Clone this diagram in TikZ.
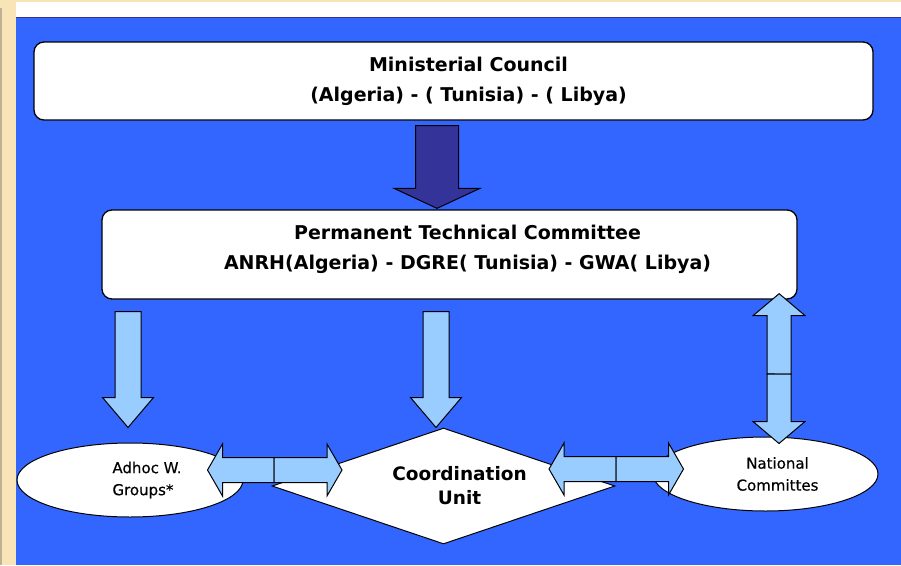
\documentclass[tikz,border=0pt]{standalone}
\usepackage{fontspec}
\setmainfont{DejaVu Sans}
\newfontfamily\ovalfont{DejaVu Sans}[FakeBold=0.4]
\usepackage{tikz}
\usetikzlibrary{calc}
\usetikzlibrary{shapes.geometric}
\usetikzlibrary{positioning}
\definecolor{slideblue}{RGB}{51,102,255}
\definecolor{arrowblue}{RGB}{153,204,255}
\definecolor{darkarrow}{RGB}{51,51,153}
\definecolor{frametan}{RGB}{249,228,184}
\definecolor{edgegray}{RGB}{190,178,150}
\tikzstyle{box}=[rectangle, rounded corners=10pt, draw=black, line width=1.3pt, fill=white]
\tikzstyle{boxtext}=[align=center, font=\bfseries\fontsize{19}{30}\selectfont]
\tikzstyle{oval}=[ellipse, draw=black, line width=1pt, fill=white, inner sep=0pt]
\tikzstyle{ovaltext}=[font=\ovalfont\fontsize{15}{22}\selectfont]
\tikzstyle{lightarr}=[draw=black, line width=1pt, fill=arrowblue]
\tikzstyle{darkarr}=[draw=black, line width=1pt, fill=darkarrow]
% block arrow: from, tip, shaft half width, head half width, head length
\newcommand{\blockarrow}[6][lightarr]{%
  \draw[#1] ($(#2)!#4!90:(#3)$)
    -- ($(#3)!#6!(#2)!#4!90:(#3)$)
    -- ($(#3)!#6!(#2)!#5!90:(#3)$)
    -- (#3)
    -- ($(#3)!#6!(#2)!#5!-90:(#3)$)
    -- ($(#3)!#6!(#2)!#4!-90:(#3)$)
    -- ($(#2)!#4!-90:(#3)$) -- cycle;}

\begin{document}
\begin{tikzpicture}[x=1pt, y=-1pt]
        \useasboundingbox (0,0) rectangle (901,565);

        % Frame
        \fill[frametan] (0,0) rectangle (901,565);
        \fill[edgegray] (0,8) rectangle (2,565);
        \fill[white] (16,2) rectangle (901,17);
        \fill[slideblue] (16,17) rectangle (901,565);
        \draw[darkarrow, line width=1pt] (16,17.5) -- (901,17.5);

        % Boxes
        \node at (453.5,81) [box, minimum width=839pt, minimum height=78pt,
          label={[boxtext, xshift=15pt]center:Ministerial Council\\(Algeria) - ( Tunisia) - ( Libya)}] (council) {};
        \node at (449.5,254.5) [box, minimum width=695pt, minimum height=89pt,
          label={[boxtext, xshift=18pt, yshift=5pt]center:Permanent Technical Committee\\ANRH(Algeria) - DGRE( Tunisia) - GWA( Libya)}] (ptc) {};

        % Bottom row
        \node at (130,480) [oval, minimum width=226pt, minimum height=74pt,
          label={[ovaltext, xshift=17pt, align=left]center:Adhoc W.\\Groups*}] (adhoc) {};
        \node at (765.5,474) [oval, minimum width=225pt, minimum height=74pt,
          label={[ovaltext, xshift=12pt, align=center]center:National\\Committes}] (natcom) {};
        \node at (443.5,486) [diamond, draw=black, line width=1pt, fill=white, inner sep=0pt,
          minimum width=343pt, minimum height=116pt,
          label={[xshift=16pt, align=center, font=\bfseries\fontsize{18.5}{24}\selectfont]center:Coordination\\Unit}] (unit) {};

        % Arrow ends
        \coordinate (c-top) at ($(council.south)+(-16.5,5)$);
        \coordinate (c-tip) at ($(ptc.north)+(-12.5,-1)$);
        \coordinate (ah-top) at ($(ptc.south)+(-321.5,12)$);
        \coordinate (ah-tip) at ($(adhoc.north)+(-2,-15)$);
        \coordinate (cu-top) at ($(ptc.south)+(-13.5,12)$);
        \coordinate (cu-tip) at ($(unit.north)+(-7.5,0)$);
        \coordinate (ah-mid) at (274,470);
        \coordinate (ah-left) at ($(adhoc.east)+(-36,-10)$);
        \coordinate (ah-right) at (342,470);
        \coordinate (nc-mid) at (616,469);
        \coordinate (nc-left) at (549,469);
        \coordinate (nc-right) at ($(natcom.west)+(31,-5)$);
        \coordinate (v-mid) at (779,374);
        \coordinate (v-top) at ($(ptc.south east)+(-18.5,-6)$);
        \coordinate (v-bot) at ($(natcom.north)+(13.5,7)$);

        % Arrows
        \blockarrow[darkarr]{c-top}{c-tip}{21.5pt}{43pt}{20pt}

        \foreach \s/\t in {ah-top/ah-tip, cu-top/cu-tip}
          {\blockarrow{\s}{\t}{13pt}{25.5pt}{30pt}}

        \foreach \s/\t in {ah-mid/ah-left, ah-mid/ah-right, nc-mid/nc-left, nc-mid/nc-right}
          {\blockarrow{\s}{\t}{12.5pt}{26pt}{15pt}}

        \foreach \t in {v-top, v-bot}
          {\blockarrow{v-mid}{\t}{12pt}{26pt}{22pt}}
      \end{tikzpicture}
\end{document}
